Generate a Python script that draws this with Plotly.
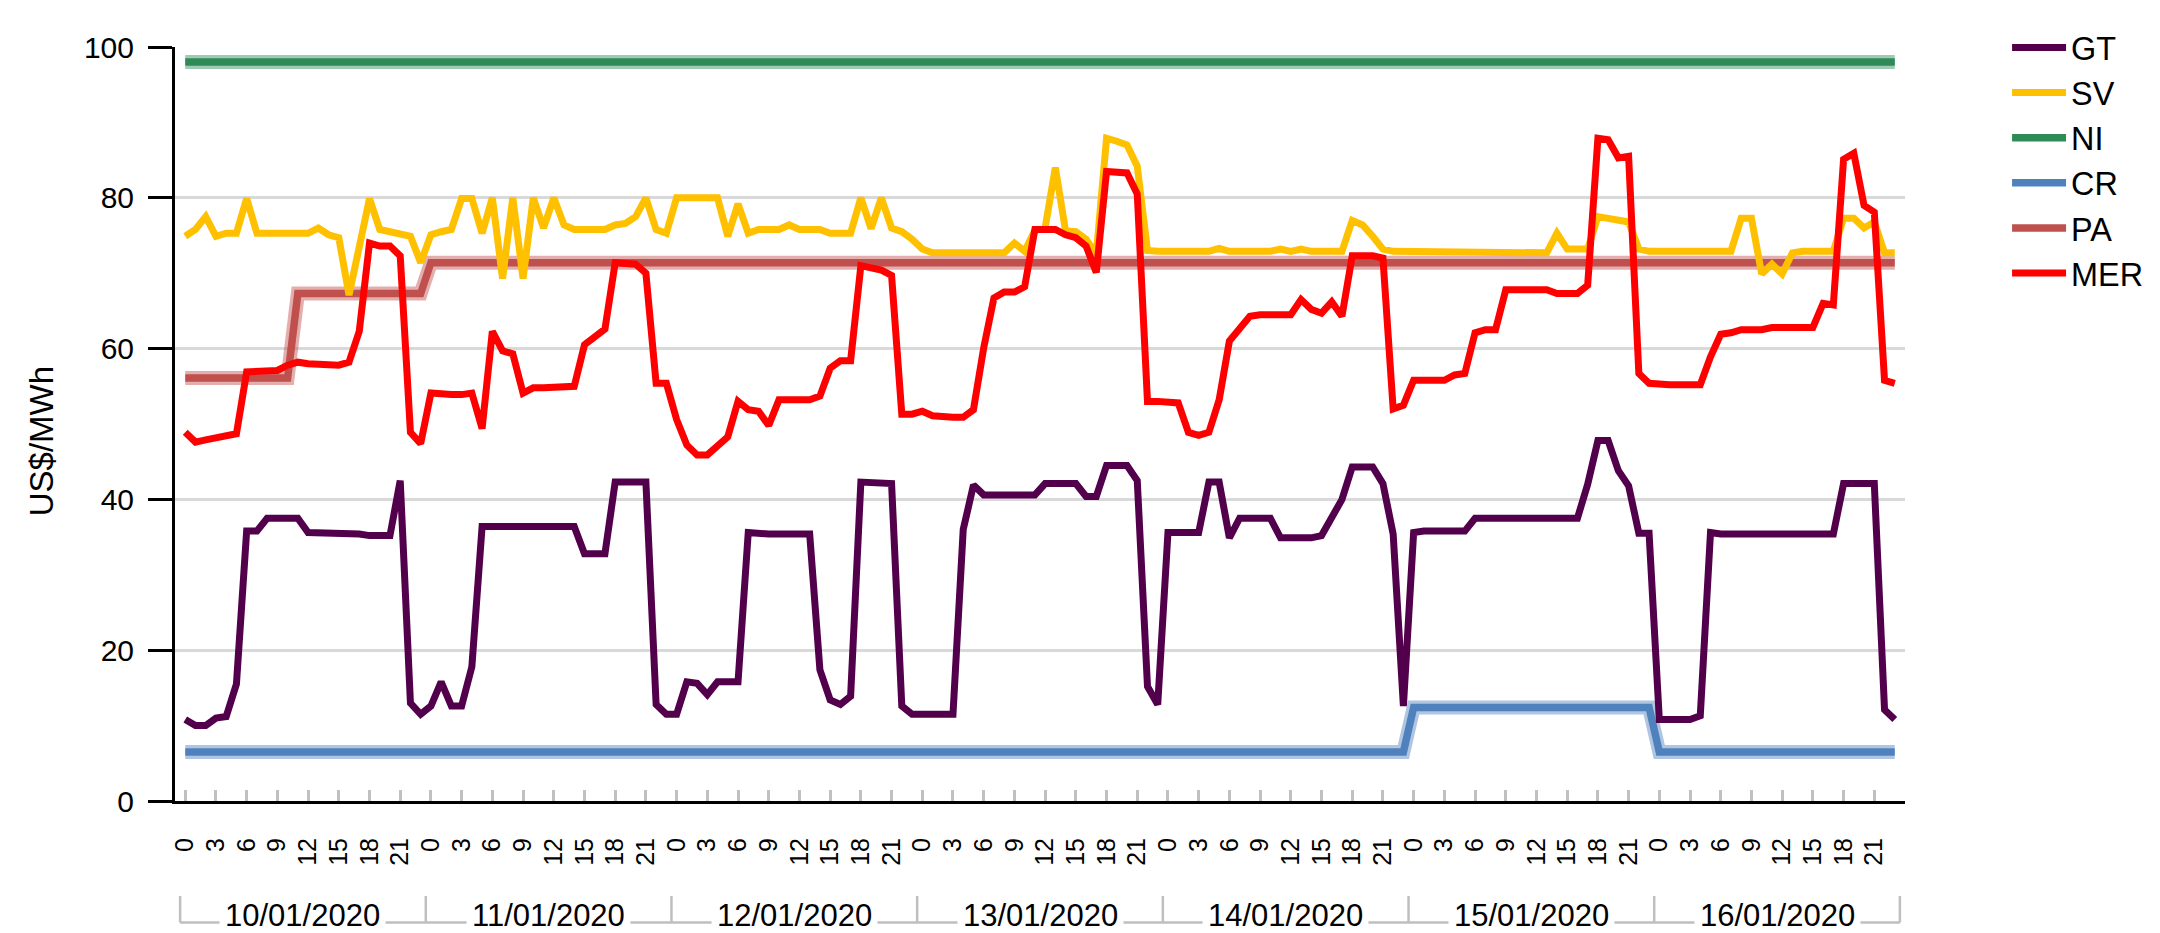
import plotly.graph_objects as go

# ---------------- data ----------------
DATES = ["10/01/2020", "11/01/2020", "12/01/2020", "13/01/2020",
         "14/01/2020", "15/01/2020", "16/01/2020"]
HOURS = list(range(24))
TICK_HOURS = [0, 3, 6, 9, 12, 15, 18, 21]

GT = [
    10.8, 10.0, 10.0, 11.0, 11.2, 15.5, 35.8, 35.8, 37.5, 37.5, 37.5, 37.5, 35.6, 35.6, 35.6, 35.6, 35.6, 35.4, 35.2, 35.2, 35.2, 42.5, 13.0, 11.5,
    12.6, 15.8, 12.6, 12.6, 17.8, 36.4, 36.4, 36.4, 36.4, 36.4, 36.4, 36.4, 36.4, 36.4, 36.4, 32.8, 32.8, 32.8, 42.3, 42.3, 42.3, 42.3, 12.8, 11.5,
    11.5, 15.8, 15.6, 14.1, 15.8, 15.8, 15.8, 35.6, 35.4, 35.4, 35.4, 35.4, 35.4, 35.4, 17.4, 13.4, 12.8, 13.9, 42.3, 42.2, 42.2, 42.1, 12.6, 11.5,
    11.5, 11.5, 11.5, 11.5, 36.0, 41.9, 40.6, 40.6, 40.6, 40.6, 40.6, 40.6, 42.1, 42.1, 42.1, 42.1, 40.4, 40.4, 44.5, 44.5, 44.5, 42.5, 15.2, 12.8,
    35.6, 35.6, 35.6, 35.6, 42.3, 42.3, 34.9, 37.5, 37.5, 37.5, 37.5, 34.9, 34.9, 34.9, 34.9, 35.2, 37.5, 40.0, 44.3, 44.3, 44.3, 42.1, 35.4, 12.6,
    35.6, 35.8, 35.8, 35.8, 35.8, 35.8, 37.5, 37.5, 37.5, 37.5, 37.5, 37.5, 37.5, 37.5, 37.5, 37.5, 37.5, 42.0, 47.8, 47.8, 43.8, 41.8, 35.5, 35.5,
    10.8, 10.8, 10.8, 10.8, 11.3, 35.6, 35.4, 35.4, 35.4, 35.4, 35.4, 35.4, 35.4, 35.4, 35.4, 35.4, 35.4, 35.4, 42.1, 42.1, 42.1, 42.1, 12.1, 10.8,
]
SV = [
    74.9, 75.8, 77.5, 74.9, 75.3, 75.3, 79.9, 75.3, 75.3, 75.3, 75.3, 75.3, 75.3, 76.0, 75.1, 74.7, 67.1, 73.5, 79.9, 75.8, 75.5, 75.3, 74.9, 71.4,
    75.1, 75.5, 75.8, 79.9, 79.9, 75.3, 80.0, 69.3, 80.0, 69.3, 80.0, 76.0, 80.0, 76.4, 75.8, 75.8, 75.8, 75.8, 76.4, 76.6, 77.5, 80.0, 75.8, 75.3,
    80.0, 80.0, 80.0, 80.0, 80.0, 74.9, 79.2, 75.3, 75.8, 75.8, 75.8, 76.4, 75.8, 75.8, 75.8, 75.3, 75.3, 75.3, 80.0, 75.9, 80.0, 76.0, 75.5, 74.5,
    73.2, 72.7, 72.7, 72.7, 72.7, 72.7, 72.7, 72.7, 72.7, 74.0, 72.9, 75.7, 76.0, 84.0, 75.6, 75.5, 74.5, 72.5, 87.9, 87.5, 87.0, 84.2, 73.0, 72.9,
    72.9, 72.9, 72.9, 72.9, 72.9, 73.3, 72.9, 72.9, 72.9, 72.9, 72.9, 73.2, 72.9, 73.2, 72.9, 72.9, 72.9, 72.9, 77.0, 76.4, 74.9, 73.2, 72.9, 72.9,
    72.9, 72.9, 72.9, 72.9, 72.9, 72.9, 72.7, 72.7, 72.7, 72.7, 72.7, 72.7, 72.7, 72.7, 75.3, 73.2, 73.2, 73.2, 77.5, 77.3, 77.1, 76.8, 73.2, 72.9,
    72.9, 72.9, 72.9, 72.9, 72.9, 72.9, 72.9, 72.9, 77.3, 77.3, 69.9, 71.2, 69.9, 72.7, 72.9, 72.9, 72.9, 72.9, 77.3, 77.3, 76.0, 76.8, 72.7, 72.7,
]
NI = [
    98.0, 98.0, 98.0, 98.0, 98.0, 98.0, 98.0, 98.0, 98.0, 98.0, 98.0, 98.0, 98.0, 98.0, 98.0, 98.0, 98.0, 98.0, 98.0, 98.0, 98.0, 98.0, 98.0, 98.0,
    98.0, 98.0, 98.0, 98.0, 98.0, 98.0, 98.0, 98.0, 98.0, 98.0, 98.0, 98.0, 98.0, 98.0, 98.0, 98.0, 98.0, 98.0, 98.0, 98.0, 98.0, 98.0, 98.0, 98.0,
    98.0, 98.0, 98.0, 98.0, 98.0, 98.0, 98.0, 98.0, 98.0, 98.0, 98.0, 98.0, 98.0, 98.0, 98.0, 98.0, 98.0, 98.0, 98.0, 98.0, 98.0, 98.0, 98.0, 98.0,
    98.0, 98.0, 98.0, 98.0, 98.0, 98.0, 98.0, 98.0, 98.0, 98.0, 98.0, 98.0, 98.0, 98.0, 98.0, 98.0, 98.0, 98.0, 98.0, 98.0, 98.0, 98.0, 98.0, 98.0,
    98.0, 98.0, 98.0, 98.0, 98.0, 98.0, 98.0, 98.0, 98.0, 98.0, 98.0, 98.0, 98.0, 98.0, 98.0, 98.0, 98.0, 98.0, 98.0, 98.0, 98.0, 98.0, 98.0, 98.0,
    98.0, 98.0, 98.0, 98.0, 98.0, 98.0, 98.0, 98.0, 98.0, 98.0, 98.0, 98.0, 98.0, 98.0, 98.0, 98.0, 98.0, 98.0, 98.0, 98.0, 98.0, 98.0, 98.0, 98.0,
    98.0, 98.0, 98.0, 98.0, 98.0, 98.0, 98.0, 98.0, 98.0, 98.0, 98.0, 98.0, 98.0, 98.0, 98.0, 98.0, 98.0, 98.0, 98.0, 98.0, 98.0, 98.0, 98.0, 98.0,
]
CR = [
    6.5, 6.5, 6.5, 6.5, 6.5, 6.5, 6.5, 6.5, 6.5, 6.5, 6.5, 6.5, 6.5, 6.5, 6.5, 6.5, 6.5, 6.5, 6.5, 6.5, 6.5, 6.5, 6.5, 6.5,
    6.5, 6.5, 6.5, 6.5, 6.5, 6.5, 6.5, 6.5, 6.5, 6.5, 6.5, 6.5, 6.5, 6.5, 6.5, 6.5, 6.5, 6.5, 6.5, 6.5, 6.5, 6.5, 6.5, 6.5,
    6.5, 6.5, 6.5, 6.5, 6.5, 6.5, 6.5, 6.5, 6.5, 6.5, 6.5, 6.5, 6.5, 6.5, 6.5, 6.5, 6.5, 6.5, 6.5, 6.5, 6.5, 6.5, 6.5, 6.5,
    6.5, 6.5, 6.5, 6.5, 6.5, 6.5, 6.5, 6.5, 6.5, 6.5, 6.5, 6.5, 6.5, 6.5, 6.5, 6.5, 6.5, 6.5, 6.5, 6.5, 6.5, 6.5, 6.5, 6.5,
    6.5, 6.5, 6.5, 6.5, 6.5, 6.5, 6.5, 6.5, 6.5, 6.5, 6.5, 6.5, 6.5, 6.5, 6.5, 6.5, 6.5, 6.5, 6.5, 6.5, 6.5, 6.5, 6.5, 6.5,
    12.4, 12.4, 12.4, 12.4, 12.4, 12.4, 12.4, 12.4, 12.4, 12.4, 12.4, 12.4, 12.4, 12.4, 12.4, 12.4, 12.4, 12.4, 12.4, 12.4, 12.4, 12.4, 12.4, 12.4,
    6.5, 6.5, 6.5, 6.5, 6.5, 6.5, 6.5, 6.5, 6.5, 6.5, 6.5, 6.5, 6.5, 6.5, 6.5, 6.5, 6.5, 6.5, 6.5, 6.5, 6.5, 6.5, 6.5, 6.5,
]
PA = [
    56.1, 56.1, 56.1, 56.1, 56.1, 56.1, 56.1, 56.1, 56.1, 56.1, 56.1, 67.3, 67.3, 67.3, 67.3, 67.3, 67.3, 67.3, 67.3, 67.3, 67.3, 67.3, 67.3, 67.3,
    71.4, 71.4, 71.4, 71.4, 71.4, 71.4, 71.4, 71.4, 71.4, 71.4, 71.4, 71.4, 71.4, 71.4, 71.4, 71.4, 71.4, 71.4, 71.4, 71.4, 71.4, 71.4, 71.4, 71.4,
    71.4, 71.4, 71.4, 71.4, 71.4, 71.4, 71.4, 71.4, 71.4, 71.4, 71.4, 71.4, 71.4, 71.4, 71.4, 71.4, 71.4, 71.4, 71.4, 71.4, 71.4, 71.4, 71.4, 71.4,
    71.4, 71.4, 71.4, 71.4, 71.4, 71.4, 71.4, 71.4, 71.4, 71.4, 71.4, 71.4, 71.4, 71.4, 71.4, 71.4, 71.4, 71.4, 71.4, 71.4, 71.4, 71.4, 71.4, 71.4,
    71.4, 71.4, 71.4, 71.4, 71.4, 71.4, 71.4, 71.4, 71.4, 71.4, 71.4, 71.4, 71.4, 71.4, 71.4, 71.4, 71.4, 71.4, 71.4, 71.4, 71.4, 71.4, 71.4, 71.4,
    71.4, 71.4, 71.4, 71.4, 71.4, 71.4, 71.4, 71.4, 71.4, 71.4, 71.4, 71.4, 71.4, 71.4, 71.4, 71.4, 71.4, 71.4, 71.4, 71.4, 71.4, 71.4, 71.4, 71.4,
    71.4, 71.4, 71.4, 71.4, 71.4, 71.4, 71.4, 71.4, 71.4, 71.4, 71.4, 71.4, 71.4, 71.4, 71.4, 71.4, 71.4, 71.4, 71.4, 71.4, 71.4, 71.4, 71.4, 71.4,
]
MER = [
    48.9, 47.6, 47.9, 48.2, 48.5, 48.7, 56.9, 56.9, 56.9, 57.1, 57.8, 58.2, 58.0, 58.0, 58.0, 57.8, 58.2, 62.3, 74.0, 73.6, 73.6, 72.3, 48.9, 47.4,
    54.1, 53.9, 53.9, 53.9, 54.1, 49.4, 62.3, 59.7, 59.3, 54.1, 54.8, 54.8, 54.8, 54.8, 55.0, 60.5, 61.5, 62.6, 71.4, 71.2, 71.2, 70.0, 55.4, 55.4,
    50.6, 47.2, 45.9, 45.9, 47.2, 48.3, 53.0, 51.9, 51.7, 49.8, 53.2, 53.2, 53.2, 53.2, 53.7, 57.4, 58.4, 58.4, 71.0, 70.6, 70.4, 69.7, 51.3, 51.3,
    51.7, 51.1, 50.9, 50.9, 50.9, 51.9, 60.1, 66.7, 67.5, 67.5, 68.2, 75.8, 75.8, 75.8, 75.1, 74.7, 73.6, 70.1, 83.5, 83.4, 83.3, 80.5, 53.0, 53.0,
    52.8, 52.8, 48.9, 48.5, 48.9, 53.2, 61.0, 62.8, 64.3, 64.5, 64.5, 64.5, 64.5, 66.5, 65.2, 64.7, 66.2, 64.3, 72.3, 72.3, 72.3, 72.0, 52.0, 52.5,
    55.8, 55.8, 55.8, 55.8, 56.5, 56.7, 62.1, 62.5, 62.5, 67.8, 67.8, 67.8, 67.8, 67.8, 67.3, 67.3, 67.3, 68.4, 87.9, 87.7, 85.3, 85.5, 56.7, 55.4,
    55.2, 55.2, 55.2, 55.2, 55.2, 58.9, 61.9, 62.1, 62.5, 62.5, 62.5, 62.8, 62.8, 62.8, 62.8, 62.8, 66.0, 65.8, 85.1, 85.9, 79.0, 78.1, 55.8, 55.4,
]

SERIES_NAMES = ["GT", "SV", "NI", "CR", "PA", "MER"]
SERIES_VALUES = [GT, SV, NI, CR, PA, MER]
SERIES_COLORS = ["#52004B", "#FFC000", "#2E8B57", "#4F81BD", "#C0504D", "#FF0000"]
HALO = {"NI", "CR", "PA"}
DRAW_ORDER = ["NI", "CR", "PA", "GT", "SV", "MER"]

FONT = "Liberation Sans Narrow, Arial Narrow, Liberation Sans, Arial, sans-serif"

# positions on a numeric hour axis built from the categories
n_days = len(DATES)
n_h = len(HOURS)
X = [d * n_h + h for d in range(n_days) for h in HOURS]

fig = go.Figure()
for name in DRAW_ORDER:
    k = SERIES_NAMES.index(name)
    vals = SERIES_VALUES[k]
    col = SERIES_COLORS[k]
    if name in HALO:
        fig.add_trace(go.Scatter(x=X, y=vals, mode="lines", showlegend=False,
                                 hoverinfo="skip",
                                 line=dict(color=col, width=14), opacity=0.45))
    fig.add_trace(go.Scatter(x=X, y=vals, mode="lines", name=name,
                             legendrank=k + 1,
                             line=dict(color=col, width=7.5 if name in HALO else 7)))

tickvals = [d * n_h + h for d in range(n_days) for h in TICK_HOURS] + [n_days * n_h]
ticktext = [str(h) for d in range(n_days) for h in TICK_HOURS] + [""]

# day group brackets below the hour labels
Y_BR_TOP = -0.126
Y_BR_BOT = -0.161
Y_DATE = -0.152
shapes = []
for d in range(n_days + 1):
    b = d * n_h - 0.5
    shapes.append(dict(type="line", xref="x", yref="paper", x0=b, x1=b,
                       y0=Y_BR_TOP, y1=Y_BR_BOT,
                       line=dict(color="#BFBFBF", width=2.5)))
shapes.append(dict(type="line", xref="x", yref="paper", x0=-0.5,
                   x1=n_days * n_h - 0.5, y0=Y_BR_BOT, y1=Y_BR_BOT,
                   line=dict(color="#BFBFBF", width=2.5)))

annotations = []
for d, lab in enumerate(DATES):
    annotations.append(dict(text=lab, xref="x", yref="paper",
                            x=d * n_h + (n_h - 1) / 2, y=Y_DATE,
                            showarrow=False, xanchor="center", yanchor="middle",
                            bgcolor="white", borderpad=5,
                            font=dict(family=FONT, size=31, color="black")))
annotations.append(dict(text="US$/MWh", xref="paper", yref="paper",
                        x=-0.0775, y=0.477, textangle=-90, showarrow=False,
                        xanchor="center", yanchor="middle",
                        font=dict(family=FONT, size=33, color="black")))

fig.update_layout(
    width=2160, height=933, autosize=False,
    margin=dict(l=167, r=263, t=26, b=140),
    paper_bgcolor="white", plot_bgcolor="white",
    shapes=shapes, annotations=annotations,
    showlegend=True,
    legend=dict(x=1.059, y=1.036, xanchor="left", yanchor="top",
                font=dict(family=FONT, size=32.4, color="black"),
                itemwidth=54, bgcolor="rgba(0,0,0,0)", traceorder="normal"),
    xaxis=dict(range=[-1, n_days * n_h], tickmode="array",
               tickvals=tickvals, ticktext=ticktext, tickangle=-90,
               ticks="inside", ticklen=11, tickwidth=2.5, tickcolor="#C0C0C0",
               ticklabelstandoff=24,
               tickfont=dict(family=FONT, size=25, color="black"),
               showgrid=False, zeroline=False,
               showline=True, linecolor="black", linewidth=3),
    yaxis=dict(range=[0, 100], tick0=0, dtick=20,
               ticks="outside", ticklen=24, tickwidth=3, tickcolor="black",
               ticklabelstandoff=8,
               tickfont=dict(family=FONT, size=30, color="black"),
               showgrid=True, gridcolor="#D9D9D9", gridwidth=2.5,
               zeroline=False, showline=True, linecolor="black", linewidth=3),
)

fig.write_html("out.html")
